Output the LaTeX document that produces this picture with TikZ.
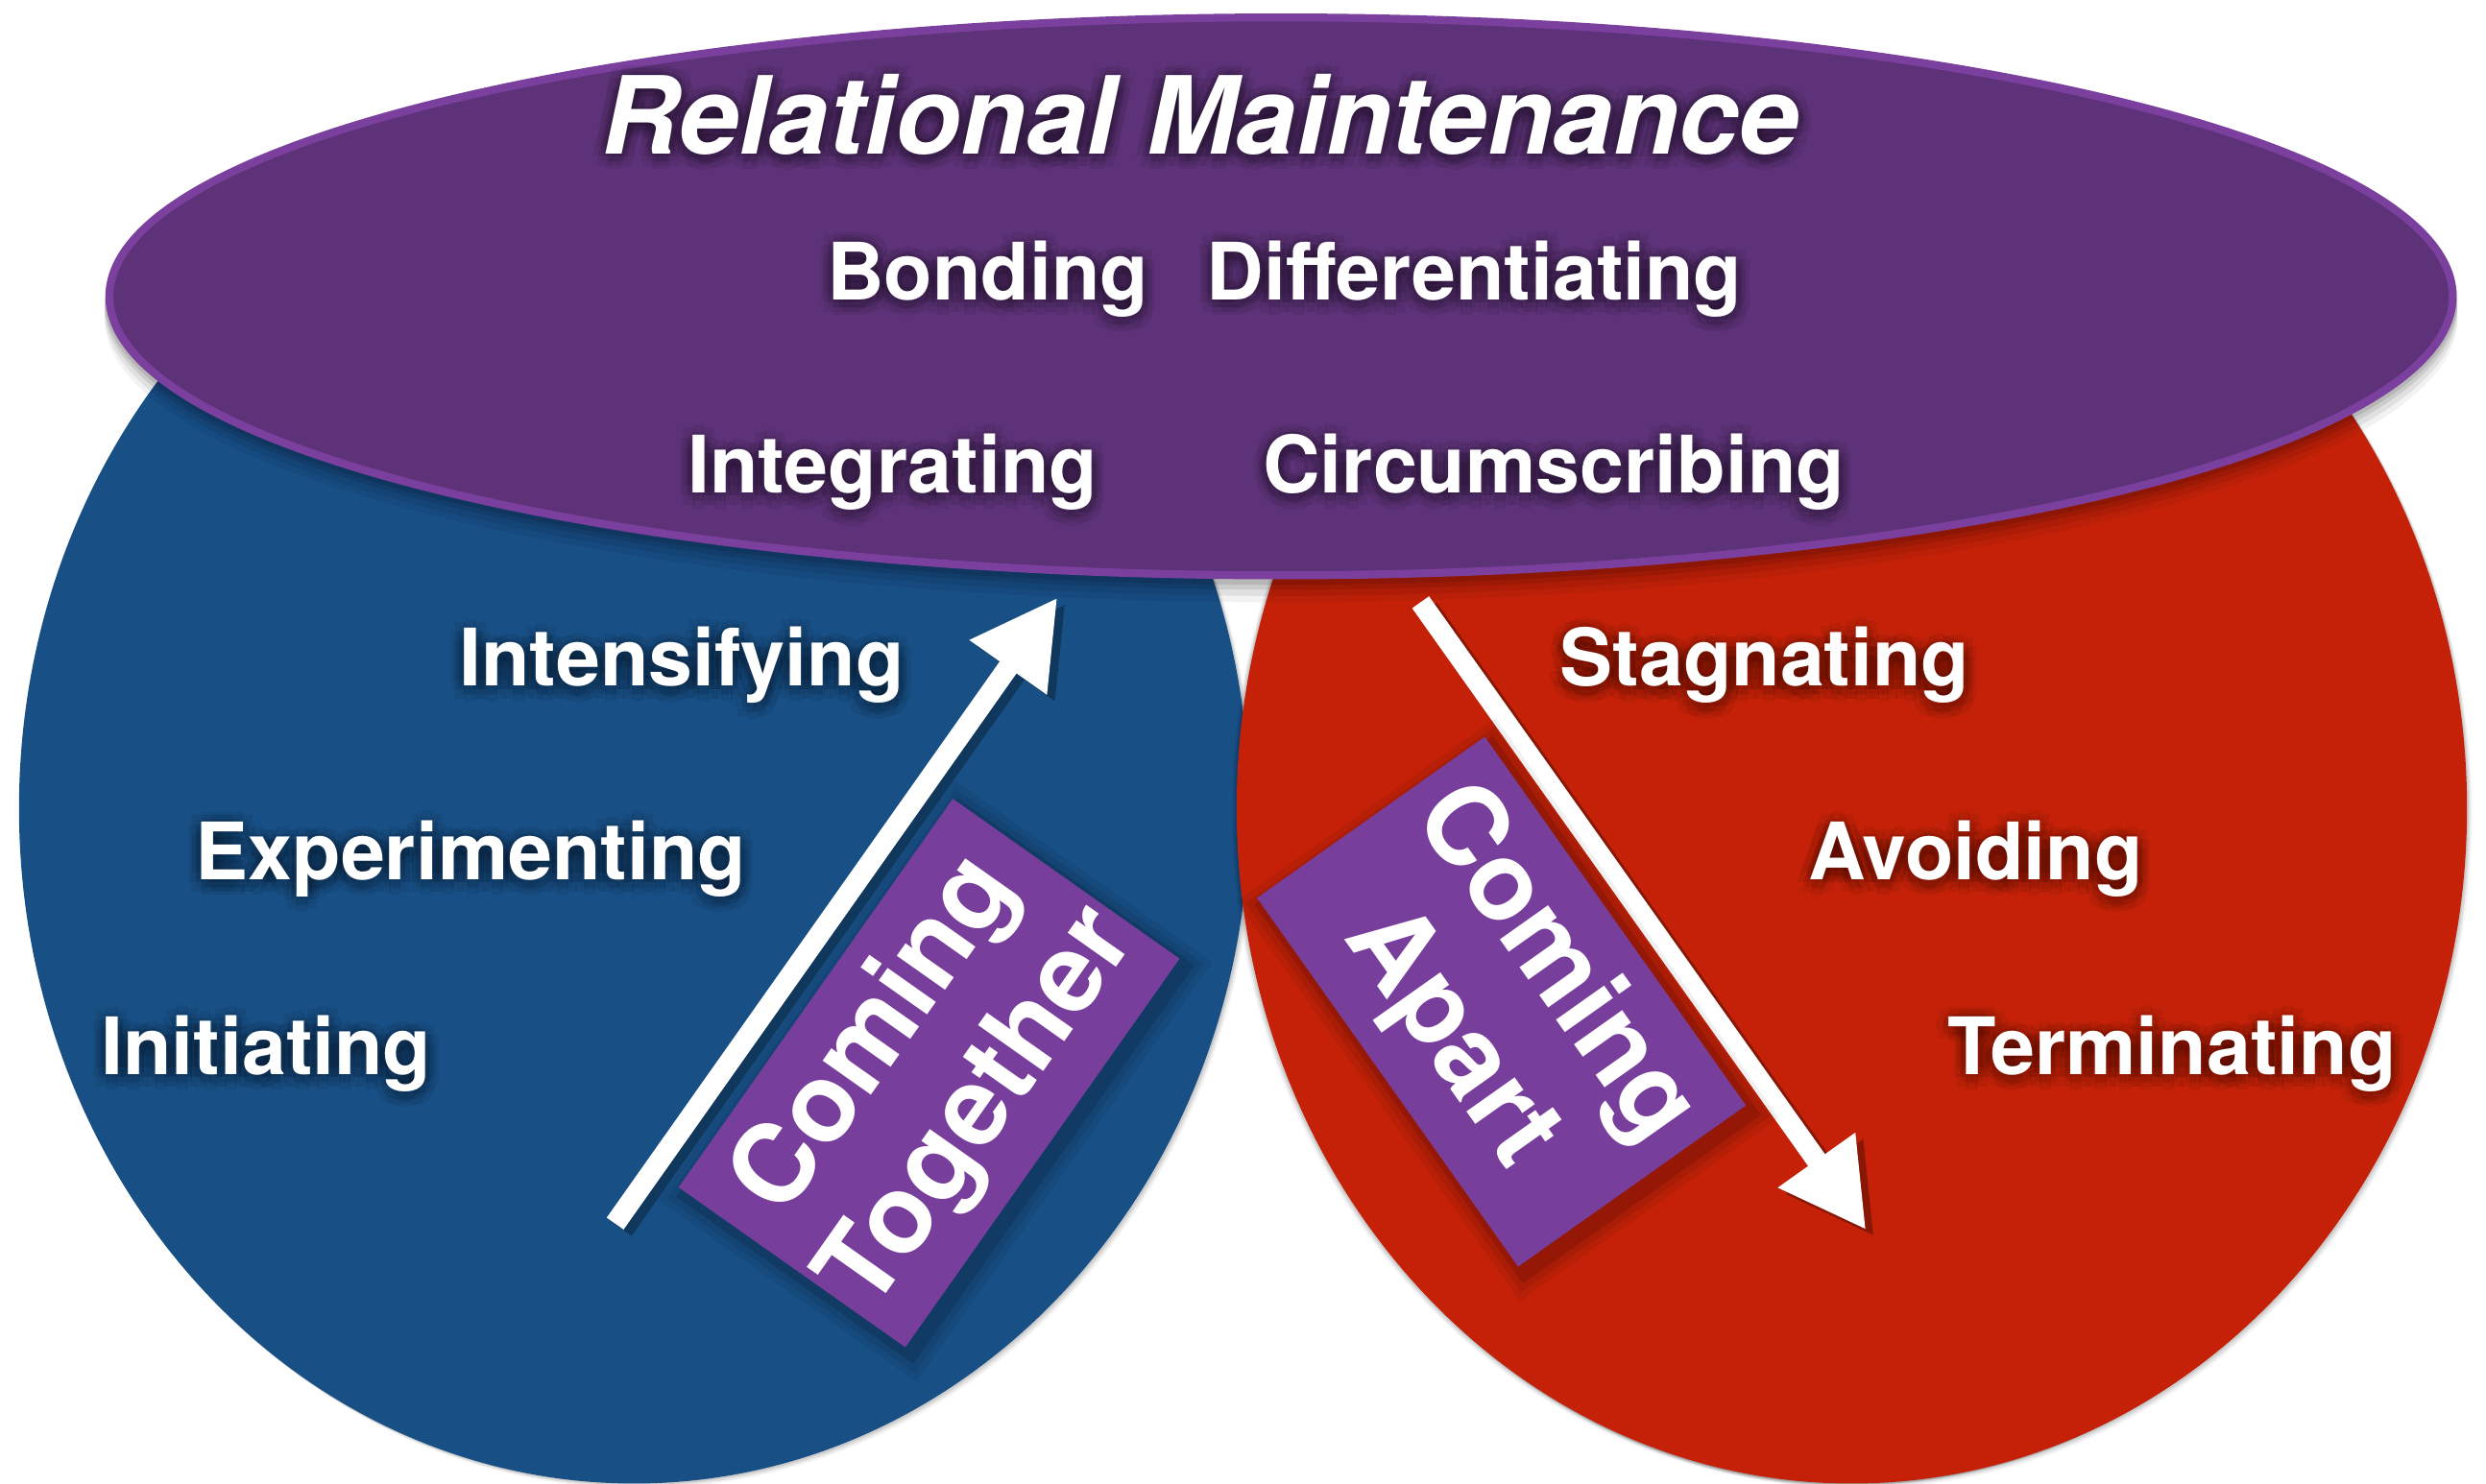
\documentclass[tikz,border=0pt]{standalone}
\usepackage{fontspec}
\setmainfont{TeX Gyre Heros}
\usetikzlibrary{arrows.meta,calc}
\definecolor{cblue}{RGB}{24,79,133}
\definecolor{cred}{RGB}{196,33,8}
\definecolor{pfill}{RGB}{93,50,120}
\definecolor{pline}{RGB}{123,64,158}
\definecolor{rpurple}{RGB}{120,62,156}
\newcommand{\glowtext}[3]{%
  \foreach \gx/\gy in {2/0,-2/0,0/2,0/-2,1.5/1.5,-1.5/1.5,1.5/-1.5,-1.5/-1.5,4/0,-4/0,0/4,0/-4,3/3,-3/3,3/-3,-3/-3}
    \node[#1, text=black, text opacity=0.06, xshift=\gx pt, yshift={\gy pt - 1pt}] at #2 {#3};
}
\begin{document}
\begin{tikzpicture}[x=0.5pt,y=-0.5pt,
  lab/.style={text=white, font=\bfseries\fontsize{25}{30}\selectfont, inner sep=0pt, anchor=base},
  titlelab/.style={text=white, font=\bfseries\itshape\fontsize{34}{40}\selectfont, inner sep=0pt, anchor=base},
  boxlab/.style={text=white, font=\bfseries\fontsize{34.5}{40}\selectfont, inner sep=0pt, align=center},
  tagbox/.style={fill=rpurple, inner sep=0pt, draw=none},
  bigarrow/.style={line width=6.5pt, -{Triangle[length=27pt,width=28pt]}},
]
\useasboundingbox (0,0) rectangle (1568,936);
\clip (0,0) rectangle (1568,936);
\fill[white] (0,0) rectangle (1568,936);

% side ellipses with soft shadows
\foreach \o/\op in {6/0.05,4/0.07,2/0.09}{
  \fill[black, opacity=\op] ({400+\o*0.5},{510+\o*0.5}) ellipse [x radius=388, y radius=426];
  \fill[black, opacity=\op] ({1168+\o*0.5},{510+\o*0.5}) ellipse [x radius=388, y radius=426];
}
\fill[cblue] (400,510) ellipse [x radius=388, y radius=426];
\foreach \o/\op in {6/0.05,4/0.07,2/0.09}
  \fill[black, opacity=\op] ({1168-\o*0.5},{510+\o*0.3}) ellipse [x radius=388, y radius=426];
\fill[cred] (1168,510) ellipse [x radius=388, y radius=426];

% top ellipse with shadow
\foreach \o/\op in {14/0.05,10/0.07,6/0.09,3/0.1}
  \fill[black, opacity=\op] (808,{187+\o}) ellipse [x radius=742, y radius=179];
\filldraw[fill=pfill, draw=pline, line width=2.5pt] (808,187) ellipse [x radius=739, y radius=176];

% labels
\glowtext{titlelab}{(757,97)}{Relational Maintenance}
\node[titlelab] (title) at (757,97) {Relational Maintenance};

\glowtext{lab}{(623,189)}{Bonding}
\node[lab] (bonding) at (623,189) {Bonding};
\glowtext{lab}{(930,189)}{Differentiating}
\node[lab] (differentiating) at (930,189) {Differentiating};
\glowtext{lab}{(563,311)}{Integrating}
\node[lab] (integrating) at (563,311) {Integrating};
\glowtext{lab}{(980,311)}{Circumscribing}
\node[lab] (circumscribing) at (980,311) {Circumscribing};
\glowtext{lab}{(430,433)}{Intensifying}
\node[lab] (intensifying) at (430,433) {Intensifying};
\glowtext{lab}{(297,555)}{Experimenting}
\node[lab] (experimenting) at (297,555) {Experimenting};
\glowtext{lab}{(168,678)}{Initiating}
\node[lab] (initiating) at (168,678) {Initiating};
\glowtext{lab}{(1113,433)}{Stagnating}
\node[lab] (stagnating) at (1113,433) {Stagnating};
\glowtext{lab}{(1246,555)}{Avoiding}
\node[lab] (avoiding) at (1246,555) {Avoiding};
\glowtext{lab}{(1370,678)}{Terminating}
\node[lab] (terminating) at (1370,678) {Terminating};

% arrows
\coordinate (ups) at (388,772);
\coordinate (upe) at (667,377);
\coordinate (dns) at (896,380);
\coordinate (dne) at (1177,776);
\begin{scope}[transparency group, opacity=0.3]
  \draw[black, bigarrow] ([shift={(5,4)}]ups) -- ([shift={(5,4)}]upe);
  \draw[black, bigarrow] ([shift={(5,4)}]dns) -- ([shift={(5,4)}]dne);
\end{scope}
\draw[white, bigarrow] (ups) -- (upe);
\draw[white, bigarrow] (dns) -- (dne);

% tag boxes with shadows
\foreach \o/\op in {12/0.06,8/0.08,4/0.12}{
  \node[tagbox, fill=black, opacity=\op, rotate=54.8, minimum width={150pt+\o pt}, minimum height={87.5pt+\o pt}] at (590,682) {};
  \node[tagbox, fill=black, opacity=\op, rotate=-54.7, minimum width={142.5pt+\o pt}, minimum height={88pt+\o pt}] at (951,637) {};
}
\node[tagbox, rotate=54.8, minimum width=150pt, minimum height=87.5pt] (ctbox) at (586,677) {};
\node[tagbox, rotate=-54.7, minimum width=142.5pt, minimum height=88pt] (cabox) at (947,632) {};
\node[boxlab, rotate=54.8] (cttext) at (ctbox.center) {Coming\\Together};
\node[boxlab, rotate=-54.7] (catext) at (cabox.center) {Coming\\Apart};
\end{tikzpicture}
\end{document}
